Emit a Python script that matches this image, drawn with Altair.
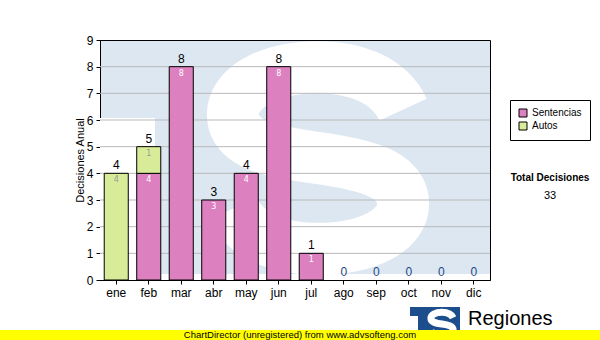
import altair as alt
import pandas as pd

months = ["ene", "feb", "mar", "abr", "may", "jun", "jul", "ago", "sep", "oct", "nov", "dic"]
sentencias = [0, 4, 8, 3, 4, 8, 1, 0, 0, 0, 0, 0]
autos = [4, 1, 0, 0, 0, 0, 0, 0, 0, 0, 0, 0]
series_names = ["Sentencias", "Autos"]
series_colors = ["#dd80c0", "#d8eb98"]
grid_values = [1, 2, 3, 4, 5, 6, 7, 8]
total_label = "Total Decisiones"

rows = []
for m, s, a in zip(months, sentencias, autos):
    if s > 0:
        rows.append({"month": m, "serie": "Sentencias", "value": s, "y0": 0, "y1": s})
    if a > 0:
        rows.append({"month": m, "serie": "Autos", "value": a, "y0": s, "y1": s + a})
seg = pd.DataFrame(rows)
tot = pd.DataFrame({"month": months, "total": [s + a for s, a in zip(sentencias, autos)]})
grid = pd.DataFrame({"v": grid_values})
one = pd.DataFrame({"a": [0]})

W, H = 390, 240
xscale = alt.Scale(domain=months, paddingInner=0.26, paddingOuter=0.13)
yscale = alt.Scale(domain=[0, 9], nice=False)
xaxis = alt.Axis(title=None, labelAngle=0, labelFont="Liberation Sans", labelFontSize=12,
                 labelColor="black", tickColor="black", tickSize=4, domainColor="black",
                 labelPadding=3, grid=False)
yaxis = alt.Axis(title="Decisiones Anual", values=list(range(10)), labelFont="Liberation Sans",
                 labelFontSize=12, labelColor="black", tickColor="black", tickSize=4,
                 domainColor="black", labelPadding=3, grid=False,
                 titleFont="Liberation Sans", titleFontSize=11, titleFontWeight="normal",
                 titleColor="black", titleX=-20, titleY=120, titleAngle=-90,
                 titleAlign="center", titleBaseline="middle")

# S-shaped centre line (unit square), stroked thickly for the watermark and the logo
S_PATH = ("M 0.74 -0.42 C 0.62 -0.68 0.32 -0.79 0 -0.79 "
          "C -0.45 -0.79 -0.74 -0.6 -0.74 -0.38 "
          "C -0.74 -0.1 -0.35 -0.05 0 0 "
          "C 0.35 0.05 0.74 0.12 0.74 0.4 "
          "C 0.74 0.62 0.45 0.79 0 0.79 "
          "C -0.3 0.79 -0.62 0.7 -0.74 0.44")

# watermark
wm_white = alt.Chart(one).mark_rect(color="white").encode(
    x=alt.value(0), x2=alt.value(55), y=alt.value(78), y2=alt.value(240))
wm_bottom = alt.Chart(one).mark_rect(color="white").encode(
    x=alt.value(0), x2=alt.value(W), y=alt.value(234), y2=alt.value(240))
wm_s = alt.Chart(one).mark_point(shape=S_PATH, filled=False, stroke="white", strokeWidth=52,
                                 opacity=1, strokeCap="butt").encode(
    x=alt.value(218), y=alt.value(118), size=alt.value(52900))

gridlines = alt.Chart(grid).mark_rule(color="#b9b9b9", strokeWidth=1).encode(
    y=alt.Y("v:Q", scale=yscale, axis=yaxis), x=alt.value(0), x2=alt.value(W))

bars = alt.Chart(seg).mark_bar(stroke="black", strokeWidth=1, opacity=1).encode(
    x=alt.X("month:N", scale=xscale, axis=xaxis),
    y=alt.Y("y1:Q", scale=yscale, axis=yaxis),
    y2="y0:Q",
    color=alt.Color("serie:N", scale=alt.Scale(domain=series_names, range=series_colors),
                    legend=alt.Legend(title=None, orient="none", legendX=410, legendY=60,
                                      symbolType="square", symbolSize=64,
                                      symbolStrokeColor="black", symbolStrokeWidth=1,
                                      labelFont="Liberation Sans", labelFontSize=10,
                                      labelColor="black", strokeColor="black",
                                      fillColor="white", padding=8, rowPadding=1,
                                      symbolOpacity=1)),
)

inner = alt.Chart(seg).mark_text(font="DejaVu Sans", fontSize=8, baseline="top", dy=3).encode(
    x=alt.X("month:N", scale=xscale, axis=xaxis),
    y=alt.Y("y1:Q", scale=yscale, axis=yaxis),
    text="value:Q",
    color=alt.condition(alt.datum.serie == "Sentencias", alt.value("#ffffff"), alt.value("#9a9a9a")),
)

tops = alt.Chart(tot).mark_text(font="Liberation Sans", fontSize=12, baseline="bottom", dy=-1).encode(
    x=alt.X("month:N", scale=xscale, axis=xaxis),
    y=alt.Y("total:Q", scale=yscale, axis=yaxis),
    text="total:Q",
    color=alt.condition(alt.datum.total > 0, alt.value("black"), alt.value("#1d4a85")),
)

total_title = alt.Chart(one).mark_text(text=total_label, font="Liberation Sans", fontWeight="bold",
                                       fontSize=10, color="black", align="center",
                                       baseline="middle").encode(x=alt.value(450), y=alt.value(138))
total_value = alt.Chart(one).mark_text(text=str(sum(sentencias) + sum(autos)), font="Liberation Sans",
                                       fontSize=11, color="black", align="center",
                                       baseline="middle").encode(x=alt.value(450), y=alt.value(156))

# bottom logo
logo_box = alt.Chart(one).mark_rect(color="#1c4d8c").encode(
    x=alt.value(310), x2=alt.value(360), y=alt.value(267), y2=alt.value(300))
logo_notch = alt.Chart(one).mark_rect(color="white").encode(
    x=alt.value(310), x2=alt.value(318), y=alt.value(276), y2=alt.value(300))
logo_s = alt.Chart(one).mark_point(shape=S_PATH, filled=False, stroke="white", strokeWidth=7,
                                   opacity=1, strokeCap="butt").encode(
    x=alt.value(342), y=alt.value(284), size=alt.value(900))
logo_name = alt.Chart(one).mark_text(text="Regiones", font="Liberation Sans", fontSize=20,
                                     color="black", align="left", baseline="alphabetic").encode(
    x=alt.value(368), y=alt.value(285))
logo_sub = alt.Chart(one).mark_text(text="Tribunal Supremo de Justicia", font="Liberation Sans",
                                    fontSize=10, color="black", align="left", baseline="top").encode(
    x=alt.value(360), y=alt.value(290))
yellow = alt.Chart(one).mark_rect(color="#ffff00").encode(
    x=alt.value(-100), x2=alt.value(500), y=alt.value(290), y2=alt.value(300))
footer = alt.Chart(one).mark_text(text="ChartDirector (unregistered) from www.advsofteng.com",
                                  font="Liberation Sans", fontSize=9.5, color="black",
                                  align="center", baseline="middle").encode(
    x=alt.value(200), y=alt.value(295))

chart = alt.layer(
    wm_white, wm_bottom, wm_s, gridlines, bars, inner, tops,
    total_title, total_value, logo_box, logo_notch, logo_s, logo_name, logo_sub, yellow, footer,
).properties(
    width=W, height=H,
    autosize=alt.AutoSizeParams(type="none"),
    padding={"left": 100, "top": 40, "right": 110, "bottom": 60},
    background="white",
).configure_view(stroke="black", strokeWidth=1, fill="#dce7f1")

chart.save("out.html", embed_options={"renderer": "svg", "actions": False})
